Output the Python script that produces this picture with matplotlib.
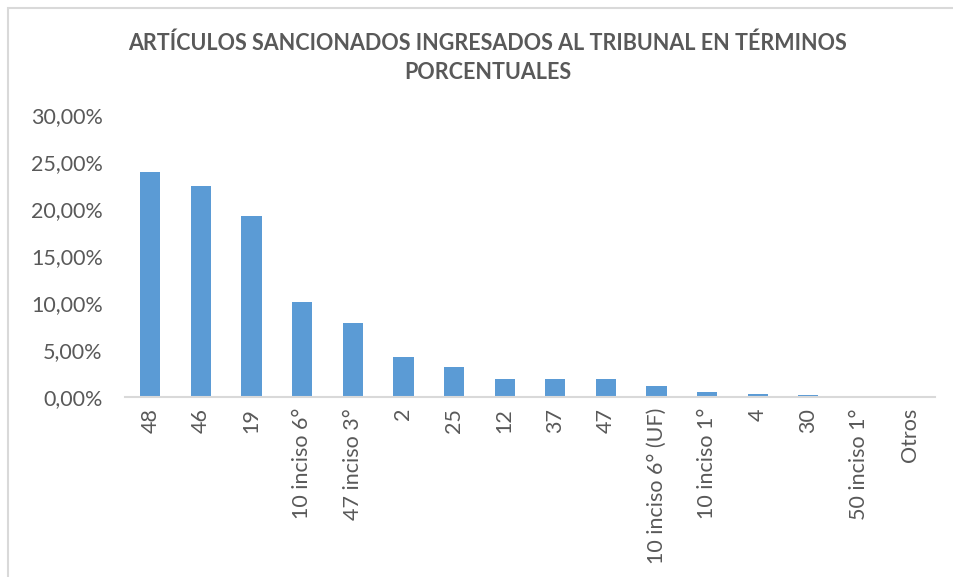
import matplotlib.pyplot as plt
import numpy as np
from matplotlib.ticker import FuncFormatter
from matplotlib.patches import Rectangle

# Categories (articles) and their share of the total
articulos = ['48', '46', '19', '10 inciso 6°', '47 inciso 3°', '2', '25', '12',
             '37', '47', '10 inciso 6° (UF)', '10 inciso 1°', '4', '30',
             '50 inciso 1°', 'Otros']
porcentajes = [0.2394, 0.2244, 0.1926, 0.1010, 0.0787, 0.0426, 0.0319, 0.0191,
               0.0191, 0.0191, 0.0117, 0.0053, 0.0032, 0.0020, 0.0012, 0.0012]

plt.rcParams['font.family'] = ['Lato', 'DejaVu Sans']
gris = '#595959'

fig = plt.figure(figsize=(9.54, 5.77), dpi=100)

# light chart frame (cut at right and bottom like the screenshot)
fig.patches.append(Rectangle((8 / 954, -0.1), 2, 1.1 - 8 / 577, transform=fig.transFigure,
                             fill=False, edgecolor='#d9d9d9', linewidth=1.5))

ax = fig.add_axes([0.131, 0.312, 0.849, 0.489])
x = np.arange(len(articulos))
ax.bar(x, porcentajes, width=0.4, color='#5b9bd5')

ax.set_xlim(-0.5, len(articulos) - 0.5)
ax.set_ylim(0, 0.30)
ax.set_yticks(np.arange(0, 0.301, 0.05))
ax.yaxis.set_major_formatter(FuncFormatter(lambda v, p: f'{v * 100:.2f}%'.replace('.', ',')))
ax.set_xticks(x)
ax.set_xticklabels(articulos, rotation=90)

for s in ['top', 'right', 'left']:
    ax.spines[s].set_visible(False)
ax.spines['bottom'].set_color('#d9d9d9')
ax.spines['bottom'].set_linewidth(1.5)
ax.tick_params(axis='both', length=0, labelsize=15.5, colors=gris, pad=8)
ax.tick_params(axis='y', pad=16)

fig.text(0.511, 0.9, 'ARTÍCULOS SANCIONADOS INGRESADOS AL TRIBUNAL EN TÉRMINOS\nPORCENTUALES',
         ha='center', va='center', fontsize=15.5, fontweight='bold', color=gris, linespacing=1.45)

fig.savefig('out.png', dpi=100)
